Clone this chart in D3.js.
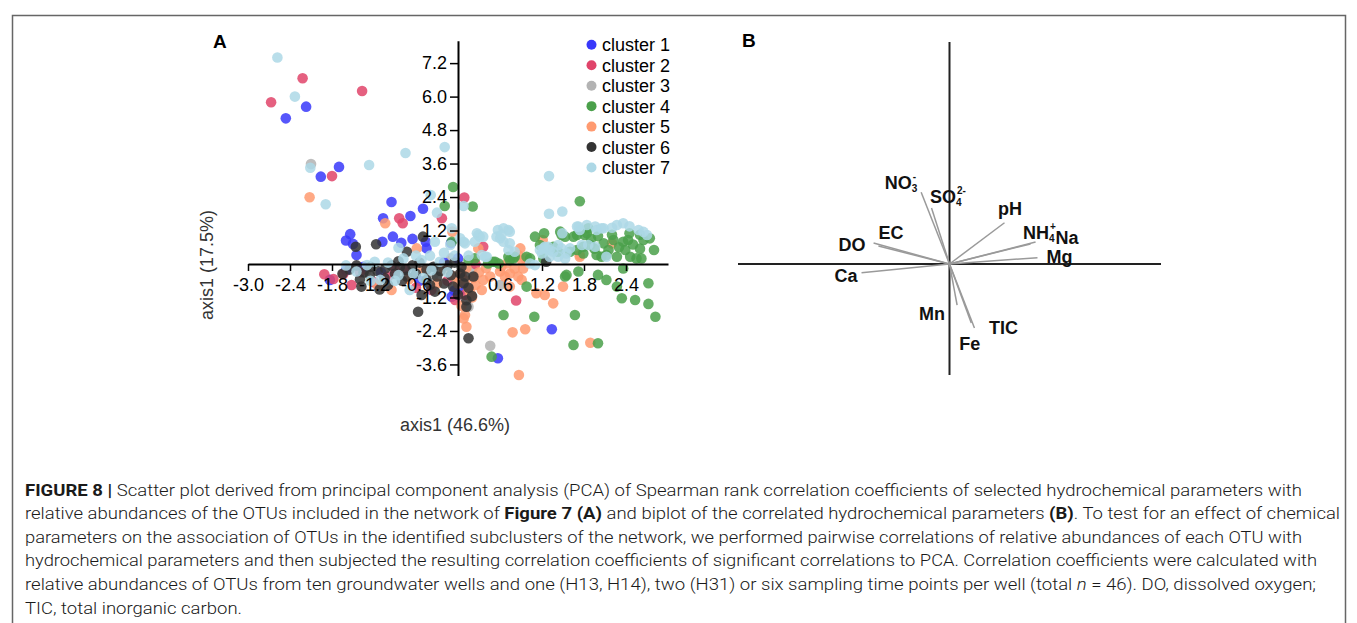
<!DOCTYPE html>
<meta charset="utf-8">
<style>
body {
  margin: 0;
  background: #fff;
}

svg {
  font-family: "Liberation Sans", Arial, sans-serif;
}

.axis .domain {
  stroke: #000;
  stroke-width: 2px;
}

.axis .tick line {
  stroke: #000;
  stroke-width: 1.5px;
}

.axis .tick text {
  font-family: "Liberation Sans", Arial, sans-serif;
  font-size: 18px;
  fill: #000;
}

.dot {
  fill-opacity: 0.85;
}

.biplot-line {
  stroke: #9a9a9a;
  stroke-width: 1.5px;
}

.biplot-label {
  font-weight: bold;
  font-size: 18px;
  fill: #111;
}

.caption {
  font-family: Roboto, sans-serif;
  font-weight: 300;
  font-size: 17px;
  fill: #1a1a1a;
}
</style>
<body>
<script src="https://cdn.jsdelivr.net/npm/d3@7"></script>
<script>

// ---- data: PCA scores of OTUs per cluster, [axis1, axis2] ----
var cluster1 = [[-2.17,5.64],[-2.46,5.22],[-1.96,3.13],[-1.70,3.48],[-0.95,2.22],[-1.07,1.64],[-0.68,1.72],[-0.50,1.98],
  [-1.54,1.07],[-1.60,0.84],[-1.50,0.72],[-1.45,0.32],[-1.08,0.80],[-0.93,0.98],[-0.81,0.76],[-0.65,0.90],
  [-0.46,0.80],[-0.45,0.56],[-1.83,-0.57],[-1.60,-0.22],[-0.09,-1.17],[1.34,-2.34],[0.57,-3.38],
  [-1.10,-0.30],[-0.20,0.05],[0.05,-0.90],[-0.55,-0.60],[-1.35,-0.10],[0.00,0.20],[-0.05,-0.95],[-0.10,0.75]];

var cluster2 = [[-2.22,6.66],[-2.67,5.80],[-1.37,6.20],[-1.80,3.15],[0.09,2.38],[-0.84,1.64],[-0.79,1.46],[-0.23,1.64],
  [-1.91,-0.37],[-1.78,-0.54],[-1.64,-0.37],[-1.52,-0.75],[-0.90,-0.22],[-0.38,-0.93],[-0.04,-1.29],
  [0.36,0.62],[0.83,-1.31],[-1.00,-0.45],[-0.75,-0.20],[-0.60,-0.85],[-0.15,-0.60],[0.10,-1.10],
  [-1.20,-0.65],[-1.40,-0.30],[0.25,0.00],[0.05,-0.45]];

var cluster3 = [[-2.10,3.58],[0.46,-2.93],[0.15,-1.53],[0.60,-0.75],[-0.85,-0.25],[-0.35,-0.40],[-0.10,0.20],
  [0.20,-0.20],[-1.30,-0.20]];

var cluster4 = [[-0.07,2.76],[-0.19,2.08],[0.21,2.06],[1.74,2.25],[-0.09,0.80],[1.10,0.98],[1.23,1.10],[1.46,1.16],
  [1.53,0.98],[1.70,1.04],[1.84,1.10],[2.74,0.92],[2.65,0.86],[2.22,0.86],[2.36,0.80],[2.43,0.86],[2.08,0.74],
  [1.89,0.68],[1.79,0.62],[1.60,0.44],[1.70,0.50],[1.79,0.38],[1.98,0.32],[2.05,0.26],[2.12,0.32],[2.27,0.26],
  [2.39,0.50],[2.46,0.26],[2.55,0.20],[2.62,0.20],[1.43,0.44],[1.36,0.62],[0.98,0.26],[1.03,0.20],[0.81,0.26],
  [0.74,0.14],[0.50,0.08],[0.43,0.02],[1.22,0.20],[2.36,-0.16],[1.53,-0.45],[1.72,-0.27],[2.12,-0.57],
  [2.27,-0.81],[2.72,-0.69],[0.98,-0.81],[2.34,-1.23],[2.53,-1.29],[2.72,-1.43],[2.82,-1.89],[1.67,-1.83],
  [1.09,-1.89],[0.65,-1.83],[2.00,-2.84],[1.65,-2.90],[0.48,-3.32],[1.48,1.04],[1.65,0.98],[1.81,1.04],
  [1.86,1.28],[1.17,0.68],[0.72,0.26],[0.79,0.20],[0.58,0.02],[0.53,0.08],[0.15,0.14],[0.24,0.20],
  [2.00,-0.39],[1.55,-0.39],[2.20,1.05],[2.45,1.10],[2.60,1.05],[2.00,1.00],[2.30,0.60],[2.15,0.50],
  [1.95,0.55],[2.60,0.55],[2.50,0.70],[2.80,0.50],[1.90,0.90]];

var cluster5 = [[-2.12,2.39],[-1.04,1.46],[-0.59,0.56],[-0.08,1.16],[-0.95,-0.93],[0.12,-2.25],[0.10,-1.83],
  [1.21,0.86],[2.20,0.74],[1.74,0.32],[0.89,0.56],[0.86,0.32],[0.91,0.14],[1.50,-0.81],[1.12,-1.05],
  [1.24,-1.11],[1.36,-1.41],[0.96,-2.34],[0.78,-2.45],[1.89,-2.82],[0.87,-3.98],[0.36,-0.57],[0.34,-0.93],
  [0.46,-0.45],[0.60,-0.27],[0.67,-0.45],[0.74,-0.34],[0.81,-0.16],[0.93,-0.16],[0.86,-0.45],[0.91,-0.57],
  [0.74,-0.81],[0.29,0.56],[0.96,0.20],[0.62,-0.10],[0.70,0.02],[1.74,0.26],[0.05,-0.30],[0.10,-0.60],
  [0.15,-0.90],[0.20,-1.20],[0.05,-1.50],[0.25,-0.75],[0.30,-0.30],[0.12,-0.15],[0.00,-0.70],[-0.05,-0.45],
  [0.18,-1.05],[0.08,-1.95],[-0.20,-0.20],[-0.50,-0.15],[-0.70,-0.55],[-1.15,-0.75],[-0.30,-0.70],
  [0.40,-0.15],[0.22,-0.50]];

var cluster6 = [[-1.46,0.62],[-1.17,0.71],[-0.73,0.44],[-0.50,0.98],[-1.38,-0.81],[-1.26,-0.39],[-1.12,-0.91],
  [-1.04,-0.16],[-0.83,-0.10],[-0.73,-0.45],[-0.57,-1.71],[-0.52,-1.11],[-0.45,-0.57],[-0.30,-0.45],
  [-0.33,-0.99],[0.03,-0.34],[-0.07,-0.81],[0.12,-1.53],[0.15,-2.66],[0.22,-0.45],[0.08,-0.69],[1.26,0.08],
  [-1.55,-0.20],[-1.45,-0.05],[-1.35,-0.30],[-1.25,-0.10],[-1.15,-0.25],[-1.05,-0.50],[-0.95,-0.05],
  [-0.90,-0.35],[-0.85,0.10],[-0.75,-0.20],[-0.65,-0.05],[-0.60,-0.35],[-0.55,0.05],[-0.45,-0.20],
  [-0.40,-0.75],[-0.35,-0.10],[-0.25,-0.25],[-0.15,-0.05],[-0.10,-0.40],[-0.05,0.05],[0.05,-0.10],
  [0.10,-0.45],[0.15,-0.85],[-0.20,-0.70],[-1.00,-0.75],[-1.40,-0.55],[-1.65,-0.35],[-0.80,-0.60],
  [0.00,-1.10],[0.20,-1.15],[0.12,-1.30]];

var cluster7 = [[-2.58,7.40],[-2.33,6.00],[-2.11,3.45],[-1.27,3.55],[-0.75,3.98],[-0.19,4.19],[1.30,3.15],
  [-0.39,2.47],[-1.89,2.14],[-0.30,1.84],[-0.85,0.58],[-0.33,0.80],[-0.11,0.68],[0.08,0.80],[-0.09,1.28],
  [0.08,2.08],[1.30,1.80],[1.49,1.88],[0.27,1.10],[0.31,0.98],[0.57,1.22],[0.65,1.28],[0.72,1.22],[0.65,0.80],
  [0.74,0.74],[0.60,0.92],[1.24,0.62],[1.31,0.50],[1.17,0.50],[1.49,1.10],[1.72,1.34],[1.84,1.40],[1.74,1.22],
  [1.98,1.22],[2.08,1.28],[2.27,1.40],[2.36,1.46],[2.58,1.22],[2.70,1.04],[1.77,0.68],[2.12,0.26],[0.41,0.26],
  [0.34,0.32],[1.53,0.20],[1.31,0.26],[0.55,0.98],[0.62,1.04],[0.74,1.16],[0.29,1.04],[0.36,0.98],[0.24,0.80],
  [0.10,0.74],[0.03,0.92],[0.39,0.26],[0.72,0.50],[0.81,0.44],[1.03,0.02],[1.10,-0.04],[1.22,0.56],[1.29,0.62],
  [1.20,0.38],[1.36,0.44],[1.43,0.68],[1.48,0.56],[1.55,0.38],[1.60,0.56],[1.43,0.26],[1.70,1.34],[1.96,1.34],
  [2.05,1.28],[1.86,0.68],[1.96,0.62],[2.20,1.30],[2.45,1.35],[2.65,1.15],[-1.45,-0.27],[-1.30,-0.04],
  [-1.19,0.08],[-1.11,-0.57],[-0.78,0.20],[-0.69,-0.93],[-0.64,-0.34],[-0.52,0.14],[-0.38,-0.22],[-0.26,0.08],
  [-1.60,-0.05],[-1.00,0.05],[-0.90,-0.60],[-0.50,-0.50],[-0.15,-0.30],[-0.60,0.30],[-0.40,0.30],[-1.25,-0.60],
  [-0.05,0.30],[-0.20,0.40],[-0.85,-0.40],[0.15,0.30]];

var clusterNames = ["cluster 1", "cluster 2", "cluster 3", "cluster 4", "cluster 5", "cluster 6", "cluster 7"];
var xTicks = [-3.0, -2.4, -1.8, -1.2, -0.6, 0.6, 1.2, 1.8, 2.4];
var yTicks = [-3.6, -2.4, -1.2, 1.2, 2.4, 3.6, 4.8, 6.0, 7.2];

// ---- data: biplot loadings of hydrochemical parameters ----
var paramNames = ["NO3", "SO4", "pH", "NH4", "Na", "Mg", "EC", "DO", "Ca", "Mn", "Fe", "TIC"];
var paramX = [-0.134, -0.085, 0.260, 0.407, 0.383, 0.416, -0.336, -0.359, -0.416, 0.036, 0.103, 0.118];
var paramY = [0.339, 0.265, 0.195, 0.104, 0.095, 0.030, 0.085, 0.099, -0.041, -0.194, -0.279, -0.303];

// ---- styles / layout ----
var clusterColors = ["#3838fa", "#e0446a", "#b3b3b3", "#4aa04a", "#ff9a70", "#333333", "#add8e6"];
var drawOrder = [2, 0, 1, 4, 3, 5, 6];

var svg = d3.select("body").append("svg")
    .attr("width", 1357)
    .attr("height", 623);

// figure frame
svg.append("path")
    .attr("d", "M12.5,623 V15.5 H1345.5 V623")
    .attr("fill", "none")
    .attr("stroke", "#666")
    .attr("stroke-width", 1.5);

// ---------------- panel A ----------------
var xA = d3.scaleLinear().domain([-3, 3]).range([248, 668]);
var yA = d3.scaleLinear().domain([-4, 8]).range([375.6, 40.8]);

var all = [cluster1, cluster2, cluster3, cluster4, cluster5, cluster6, cluster7];

drawOrder.forEach(function(ci) {
  svg.append("g").selectAll("circle")
    .data(all[ci])
    .enter().append("circle")
      .attr("class", "dot")
      .attr("cx", d => xA(d[0]))
      .attr("cy", d => yA(d[1]))
      .attr("r", 5.3)
      .style("fill", clusterColors[ci]);
});

svg.append("g")
    .attr("class", "axis")
    .attr("transform", `translate(0, ${yA(0)})`)
    .call(d3.axisBottom(xA).tickValues(xTicks).tickSize(7).tickSizeOuter(0).tickPadding(7)
      .tickFormat(d => d.toFixed(1)));

svg.append("g")
    .attr("class", "axis")
    .attr("transform", `translate(${xA(0)}, 0)`)
    .call(d3.axisLeft(yA).tickValues(yTicks).tickSize(8).tickSizeOuter(0).tickPadding(3)
      .tickFormat(d => d.toFixed(1)));

svg.append("text")
    .attr("x", 213).attr("y", 47.5)
    .style("font-weight", "bold").style("font-size", "19px")
    .text("A");

svg.append("text")
    .attr("x", 455).attr("y", 431)
    .attr("text-anchor", "middle")
    .style("font-size", "18px").style("fill", "#333")
    .text("axis1 (46.6%)");

svg.append("text")
    .attr("transform", "translate(207, 265) rotate(-90)")
    .attr("text-anchor", "middle")
    .attr("dy", "0.35em")
    .style("font-size", "18px").style("fill", "#333")
    .text("axis1 (17.5%)");

// legend
var legend = svg.append("g").selectAll("g")
    .data(clusterNames)
    .enter().append("g")
      .attr("transform", (d, i) => `translate(591.5, ${44.8 + i * 20.45})`);

legend.append("circle")
    .attr("r", 5)
    .style("fill", (d, i) => clusterColors[i]);

legend.append("text")
    .attr("x", 10.5)
    .attr("dy", "0.36em")
    .style("font-size", "18px")
    .text(d => d);

// ---------------- panel B ----------------
var xB = d3.scaleLinear().domain([-1, 1]).range([738, 1161]);
var yB = d3.scaleLinear().domain([-0.525, 1.05]).range([375, 42]);

svg.append("text")
    .attr("x", 742).attr("y", 47)
    .style("font-weight", "bold").style("font-size", "19px")
    .text("B");

svg.append("line")
    .attr("x1", xB(-1)).attr("x2", xB(1))
    .attr("y1", yB(0)).attr("y2", yB(0))
    .attr("stroke", "#222").attr("stroke-width", 2);

svg.append("line")
    .attr("x1", xB(0)).attr("x2", xB(0))
    .attr("y1", yB(1.05)).attr("y2", yB(-0.525))
    .attr("stroke", "#222").attr("stroke-width", 2);

svg.append("g").selectAll("line")
    .data(paramNames)
    .enter().append("line")
      .attr("class", "biplot-line")
      .attr("x1", xB(0)).attr("y1", yB(0))
      .attr("x2", (d, i) => xB(paramX[i]))
      .attr("y2", (d, i) => yB(paramY[i]));

// label text, subscript, superscript and offset from arrow tip
var labelInfo = {
  NO3: {t: "NO", sub: "3", sup: "-", dx: -36.5, dy: -3},
  SO4: {t: "SO", sub: "4", sup: "2-", dx: -1.5, dy: -4.5},
  pH:  {t: "pH", dx: -6.5, dy: -7.5},
  NH4: {t: "NH", sub: "4", sup: "+", dx: -12.5, dy: -3.5},
  Na:  {t: "Na", dx: 25, dy: 0},
  Mg:  {t: "Mg", dx: 9, dy: 5.5},
  EC:  {t: "EC", dx: 0, dy: -7},
  DO:  {t: "DO", dx: -35, dy: 8},
  Ca:  {t: "Ca", dx: -27, dy: 9},
  Mn:  {t: "Mn", dx: -38, dy: 15},
  Fe:  {t: "Fe", dx: -12, dy: 27.5},
  TIC: {t: "TIC", dx: 14.5, dy: 5.5}
};

paramNames.forEach(function(name, i) {
  var info = labelInfo[name];
  var lx = xB(paramX[i]) + info.dx,
      ly = yB(paramY[i]) + info.dy;
  var t = svg.append("text")
      .attr("class", "biplot-label")
      .attr("x", lx).attr("y", ly)
      .text(info.t);
  var w = t.node().getComputedTextLength();
  if (info.sub) {
    svg.append("text")
        .attr("class", "biplot-label")
        .attr("x", lx + w).attr("y", ly + 3)
        .style("font-size", "10px")
        .text(info.sub);
  }
  if (info.sup) {
    svg.append("text")
        .attr("class", "biplot-label")
        .attr("x", lx + w + 1).attr("y", ly - 9)
        .style("font-size", "10px")
        .text(info.sup);
  }
});

// ---------------- caption ----------------
var captionLines = [
  [["FIGURE 8 |", "b"], [" Scatter plot derived from principal component analysis (PCA) of Spearman rank correlation coefficients of selected hydrochemical parameters with", ""]],
  [["relative abundances of the OTUs included in the network of ", ""], ["Figure 7 (A)", "b"], [" and biplot of the correlated hydrochemical parameters ", ""], ["(B)", "b"], [". To test for an effect of chemical", ""]],
  [["parameters on the association of OTUs in the identified subclusters of the network, we performed pairwise correlations of relative abundances of each OTU with", ""]],
  [["hydrochemical parameters and then subjected the resulting correlation coefficients of significant correlations to PCA. Correlation coefficients were calculated with", ""]],
  [["relative abundances of OTUs from ten groundwater wells and one (H13, H14), two (H31) or six sampling time points per well (total ", ""], ["n", "i"], [" = 46). DO, dissolved oxygen;", ""]],
  [["TIC, total inorganic carbon.", ""]]
];
var captionWidths = [1277, 1315, 1277, 1292, 1291, 217];

captionLines.forEach(function(line, i) {
  var t = svg.append("text")
      .attr("class", "caption")
      .attr("x", 25)
      .attr("y", 495.5 + i * 23.6)
      .attr("textLength", captionWidths[i])
      .attr("lengthAdjust", "spacingAndGlyphs");
  line.forEach(function(seg) {
    t.append("tspan")
      .style("font-weight", seg[1] === "b" ? 700 : null)
      .style("font-style", seg[1] === "i" ? "italic" : null)
      .text(seg[0]);
  });
});

</script>
</body>
